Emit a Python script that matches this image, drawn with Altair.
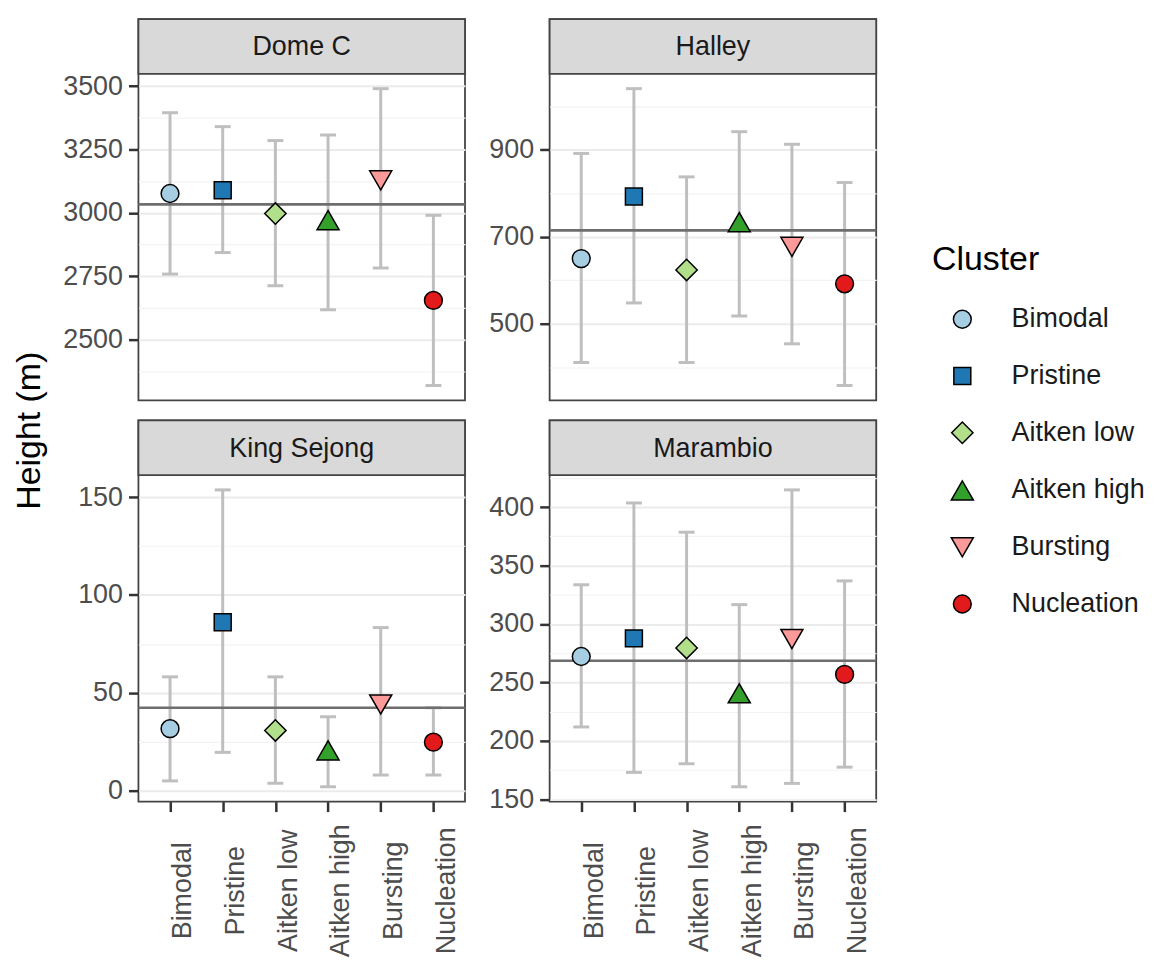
import altair as alt
import pandas as pd

FONT = "Liberation Sans"

# ---------------- data ----------------
clusters = ["Bimodal", "Pristine", "Aitken low", "Aitken high", "Bursting", "Nucleation"]
cluster_colors = ["#A6CEE3", "#1F78B4", "#B2DF8A", "#33A02C", "#FB9A99", "#E31A1C"]
cluster_shapes = ["circle", "square", "diamond", "triangle-up", "triangle-down", "circle"]
cluster_sizes = [320, 290, 460, 490, 490, 320]

stations = ["Dome C", "Halley", "King Sejong", "Marambio"]

domec_mean = [3076, 3089, 2997, 2971, 3128, 2654]
domec_low = [2758, 2843, 2712, 2617, 2782, 2318]
domec_high = [3395, 3340, 3285, 3307, 3490, 2990]
domec_ref = 3033
domec_ticks = [2500, 2750, 3000, 3250, 3500]

halley_mean = [650, 793, 624, 734, 677, 592]
halley_low = [411, 548, 411, 518, 454, 358]
halley_high = [892, 1041, 838, 942, 913, 825]
halley_ref = 715
halley_ticks = [500, 700, 900]

kingsejong_mean = [31.6, 86.0, 30.7, 20.5, 44.0, 24.7]
kingsejong_low = [4.9, 19.5, 3.7, 1.9, 7.9, 7.9]
kingsejong_high = [58.1, 153.7, 58.1, 37.7, 83.3, 42.3]
kingsejong_ref = 42.3
kingsejong_ticks = [0, 50, 100, 150]

marambio_mean = [272.1, 287.6, 279.4, 240.6, 287.1, 256.8]
marambio_low = [211.8, 172.9, 180.3, 160.6, 163.5, 177.4]
marambio_high = [333.5, 403.5, 378.5, 316.5, 414.7, 336.8]
marambio_ref = 268.5
marambio_ticks = [150, 200, 250, 300, 350, 400]

# ---------------- layout ----------------
W = 328      # panel width
H = 383      # panel height incl. strip
STRIP = 55   # strip height

legend = alt.Legend(
    title="Cluster", orient="none", legendX=797, legendY=225,
    titleFont=FONT, titleFontSize=34, titleFontWeight="normal", titleColor="black",
    labelFont=FONT, labelFontSize=27, labelColor="#1A1A1A",
    symbolStrokeWidth=1.5, symbolOpacity=1,
    rowPadding=29, titlePadding=29, symbolOffset=17, labelOffset=36, padding=0,
)


def panel(name, mean, low, high, ref, ticks, bottom, with_title):
    df = pd.DataFrame({"cluster": clusters, "mean": mean, "low": low, "high": high})
    lo, hi = min(low), max(high)
    pad = 0.05 * (hi - lo)
    ys = alt.Scale(domain=[lo - pad, hi + pad], range=[H, STRIP], zero=False, nice=False)
    xs = alt.Scale(type="point", domain=clusters, padding=0.6)

    step = ticks[1] - ticks[0]
    minor = [t - step / 2 for t in ticks] + [ticks[-1] + step / 2]
    test = "indexof(%s, datum.value) >= 0" % str(ticks)
    axis_kw = dict(
        values=sorted(ticks + minor), format="d", domain=False,
        labelExpr="%s ? datum.label : ''" % test,
        labelFont=FONT, labelFontSize=27, labelColor="#4D4D4D", labelPadding=6,
        tickSize=10, tickWidth=2.5, tickColor="#333333",
        tickOpacity={"condition": {"test": test, "value": 1}, "value": 0},
        grid=True,
        gridColor={"condition": {"test": test, "value": "#EBEBEB"}, "value": "#F3F3F3"},
        gridWidth={"condition": {"test": test, "value": 2}, "value": 1.2},
    )
    if with_title:
        axis_kw.update(titleFont=FONT, titleFontSize=34, titleFontWeight="normal",
                       titleColor="black", titleAngle=270, titleX=-109, titleY=413,
                       titleAlign="center", titleBaseline="middle")
    yaxis = alt.Axis(**axis_kw)
    ytitle = "Height (m)" if with_title else None

    if bottom:
        xaxis = alt.Axis(labelAngle=270, labelAlign="center", labelBaseline="top",
                         labelPadding=79, tickSize=10, tickWidth=2.5, tickColor="#333333",
                         labelFont=FONT, labelFontSize=27, labelColor="#4D4D4D",
                         domain=False, grid=False)
    else:
        xaxis = None

    def X():
        return alt.X("cluster:N", scale=xs, axis=xaxis, title=None)

    def Y(field):
        return alt.Y(field, type="quantitative", scale=ys, axis=yaxis, title=ytitle)

    strip_df = pd.DataFrame({"station": [name]})
    strip = alt.Chart(strip_df).mark_rect(fill="#D9D9D9", stroke="#444444", strokeWidth=1.8).encode(
        x=alt.value(0), x2=alt.value(W), y=alt.value(0), y2=alt.value(STRIP))
    strip_text = alt.Chart(strip_df).mark_text(font=FONT, fontSize=27, color="#1A1A1A",
                                               baseline="middle", align="center").encode(
        x=alt.value(W / 2), y=alt.value(STRIP / 2 + 1), text="station:N")

    bars = alt.Chart(df).mark_rule(color="#BFBFBF", strokeWidth=3).encode(
        x=X(), y=Y("low"), y2=alt.Y2("high"))
    cap_lo = alt.Chart(df).mark_tick(color="#BFBFBF", thickness=3, size=16, opacity=1).encode(
        x=X(), y=Y("low"))
    cap_hi = alt.Chart(df).mark_tick(color="#BFBFBF", thickness=3, size=16, opacity=1).encode(
        x=X(), y=Y("high"))
    ref_df = pd.DataFrame({"ref": [ref]})
    hline = alt.Chart(ref_df).mark_rule(color="#6E6E6E", strokeWidth=2.6).encode(y=Y("ref"))
    pts = alt.Chart(df).mark_point(filled=True, opacity=1, stroke="black", strokeWidth=1.5).encode(
        x=X(), y=Y("mean"),
        fill=alt.Fill("cluster:N", scale=alt.Scale(domain=clusters, range=cluster_colors), legend=legend),
        shape=alt.Shape("cluster:N", scale=alt.Scale(domain=clusters, range=cluster_shapes), legend=legend),
        size=alt.Size("cluster:N", scale=alt.Scale(type="ordinal", domain=clusters, range=cluster_sizes), legend=legend),
        stroke=alt.value("black"),
        strokeWidth=alt.value(1.5),
    )
    return alt.layer(strip, strip_text, bars, cap_lo, cap_hi, hline, pts).properties(width=W, height=H)


p1 = panel(stations[0], domec_mean, domec_low, domec_high, domec_ref, domec_ticks, False, True)
p2 = panel(stations[1], halley_mean, halley_low, halley_high, halley_ref, halley_ticks, False, False)
p3 = panel(stations[2], kingsejong_mean, kingsejong_low, kingsejong_high, kingsejong_ref, kingsejong_ticks, True, False)
p4 = panel(stations[3], marambio_mean, marambio_low, marambio_high, marambio_ref, marambio_ticks, True, False)

chart = alt.concat(
    p1, p2, p3, p4, columns=2, bounds="flush",
    spacing={"row": 20, "column": 85},
).properties(
    padding={"left": 4, "top": 7, "right": 5, "bottom": 5},
    background="white",
).configure_view(stroke="#444444", strokeWidth=1.8)

chart.save("out.html", embed_options={"renderer": "svg", "actions": False})
